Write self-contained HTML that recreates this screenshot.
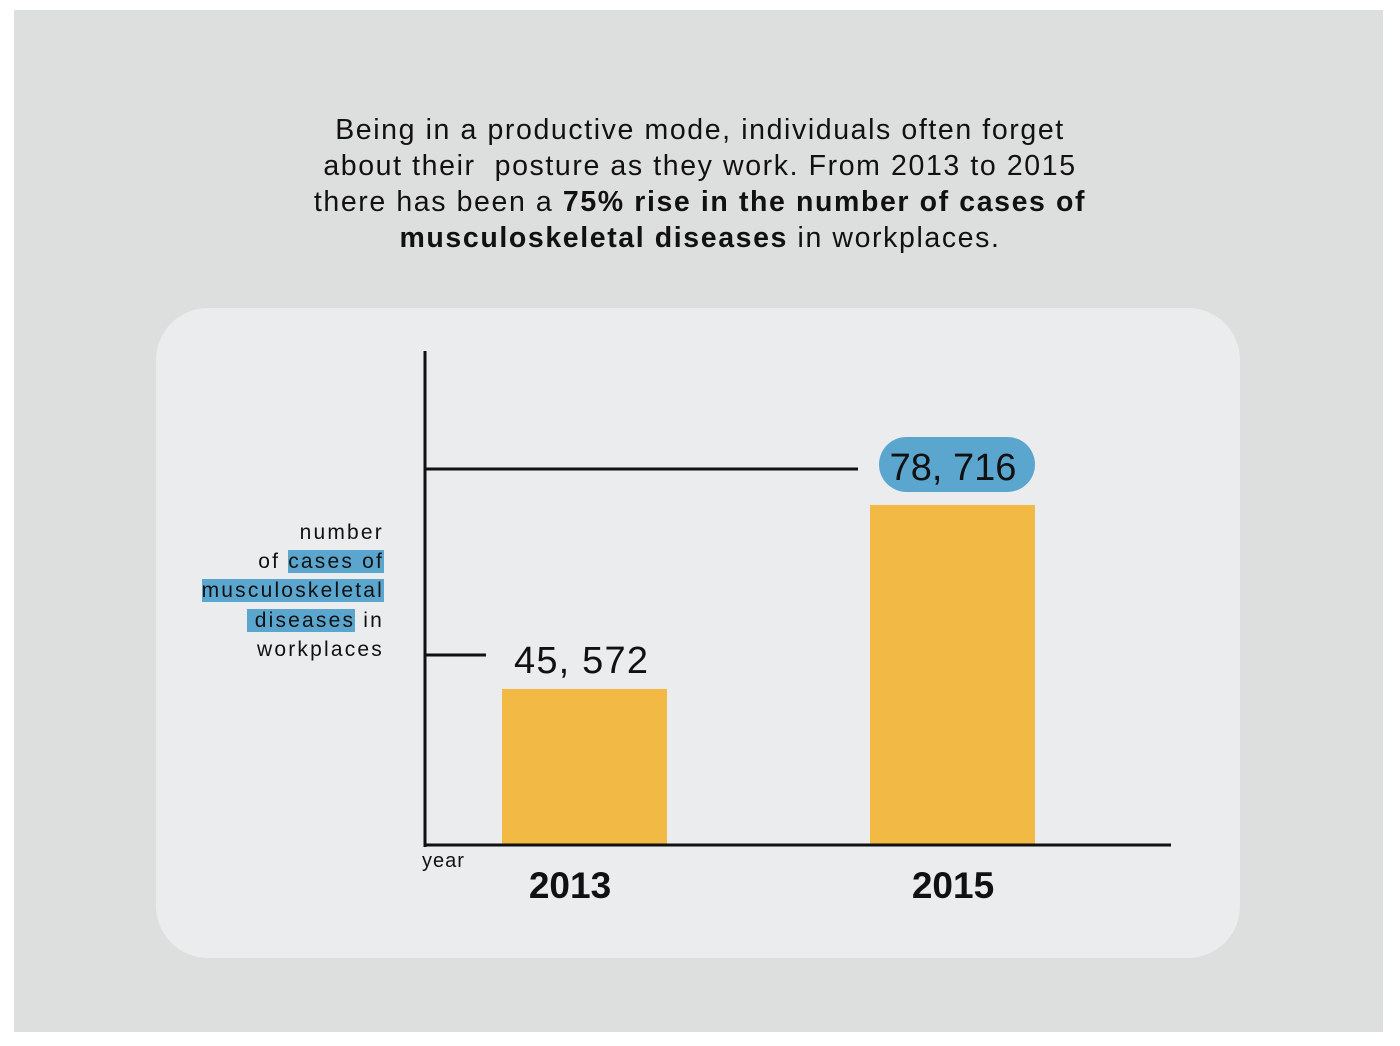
<!DOCTYPE html>
<html><head><meta charset="utf-8">
<style>
body{margin:0;width:1400px;height:1046px;background:#fff;position:relative;font-family:"Liberation Sans",sans-serif;overflow:hidden}
#panel{position:absolute;left:14px;top:10px;width:1369px;height:1022px;background:#dddfde}
#title{position:absolute;left:0;top:112px;width:1400px;text-align:center;font-size:28.5px;line-height:36px;color:#111;letter-spacing:1.6px}
#card{position:absolute;left:156px;top:308px;width:1084px;height:650px;background:#ebeced;border-radius:52px}
#ylab{position:absolute;right:1016px;top:518px;text-align:right;font-size:21px;line-height:29.2px;color:#111;letter-spacing:2.2px}
.hl{background:#5ba6cf}
svg{position:absolute;left:0;top:0}
</style></head><body>
<div id="panel"></div>
<div id="title">Being in a productive mode, individuals often forget<br>about their&nbsp; posture as they work. From 2013 to 2015<br>there has been a <b>75% rise in the number of cases of<br>musculoskeletal diseases</b> in workplaces.</div>
<div id="card"></div>
<div id="ylab">number<br>of <span class="hl">cases of</span><br><span class="hl">musculoskeletal</span><br><span class="hl">&nbsp;diseases</span> in<br>workplaces</div>
<svg id="chart" width="1400" height="1046"></svg>
<script>
const categories=["2013","2015"];
const values=[45572,78716];
const valueLabels=["45, 572","78, 716"];
const NS="http://www.w3.org/2000/svg";
const svg=document.getElementById('chart');
const baseY=845;
function yScale(v){return baseY-(-97+v*0.005552);}
function xScale(i){return 502+i*368;}
function mk(t,a){const e=document.createElementNS(NS,t);for(const k in a)e.setAttribute(k,a[k]);svg.appendChild(e);return e;}
categories.forEach((c,i)=>{
  const x=xScale(i),y=yScale(values[i]);
  const b=mk('rect',{x:x,y:y,width:165,height:baseY-y,fill:'#f2b944'});
  
  
  const ly=y-36+(i==0?2:0);
  const ln=mk('line',{x1:425,x2:i==0?486:858,y1:ly,y2:ly,stroke:'#111','stroke-width':3});
  
  
  if(i==1){
    const p=mk('rect',{x:879,y:ly-32,width:156,height:55,rx:27.5,fill:'#5ba6cf'});
    
    
  }
  const t=mk('text',{x:i==0?514:953,y:i==0?ly+18:ly+11,'font-size':38,fill:'#111','text-anchor':i==0?'start':'middle','letter-spacing':i==0?1.2:0});
  t.textContent=valueLabels[i];
  
  
  const xl=mk('text',{x:x+(i==0?68:83),y:898,'font-size':37,'font-weight':'bold',fill:'#111','text-anchor':'middle'});
  xl.textContent=c;
  
  
});
const ya=mk('line',{x1:425,x2:425,y1:351,y2:847,stroke:'#111','stroke-width':3});


const xa=mk('line',{x1:424,x2:1171,y1:845,y2:845,stroke:'#111','stroke-width':3});


const yr=mk('text',{x:422,y:867,'font-size':20,fill:'#111','letter-spacing':1});
yr.textContent='year';


</script>
</body></html>
